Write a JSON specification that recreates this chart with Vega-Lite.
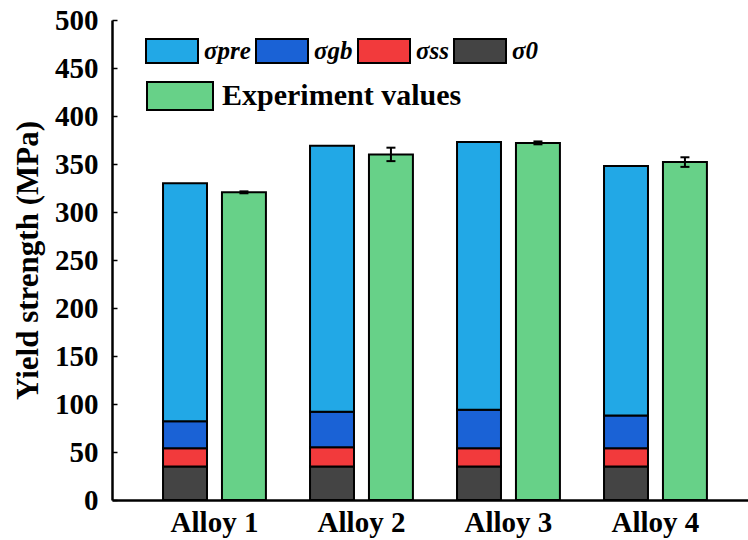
{
  "$schema": "https://vega.github.io/schema/vega-lite/v6.json",
  "width": 636,
  "height": 480,
  "autosize": {"type": "none"},
  "padding": {"left": 112, "top": 20, "right": 0, "bottom": 40},
  "background": "white",
  "datasets": {
    "comp": [
      {"alloy": "Alloy 1", "kind": "Model", "series": "σ0", "k": 1, "value": 35},
      {"alloy": "Alloy 1", "kind": "Model", "series": "σss", "k": 2, "value": 19},
      {"alloy": "Alloy 1", "kind": "Model", "series": "σgb", "k": 3, "value": 28},
      {"alloy": "Alloy 1", "kind": "Model", "series": "σpre", "k": 4, "value": 248},
      {"alloy": "Alloy 2", "kind": "Model", "series": "σ0", "k": 1, "value": 35},
      {"alloy": "Alloy 2", "kind": "Model", "series": "σss", "k": 2, "value": 20},
      {"alloy": "Alloy 2", "kind": "Model", "series": "σgb", "k": 3, "value": 37},
      {"alloy": "Alloy 2", "kind": "Model", "series": "σpre", "k": 4, "value": 277},
      {"alloy": "Alloy 3", "kind": "Model", "series": "σ0", "k": 1, "value": 35},
      {"alloy": "Alloy 3", "kind": "Model", "series": "σss", "k": 2, "value": 19},
      {"alloy": "Alloy 3", "kind": "Model", "series": "σgb", "k": 3, "value": 40},
      {"alloy": "Alloy 3", "kind": "Model", "series": "σpre", "k": 4, "value": 279},
      {"alloy": "Alloy 4", "kind": "Model", "series": "σ0", "k": 1, "value": 35},
      {"alloy": "Alloy 4", "kind": "Model", "series": "σss", "k": 2, "value": 19},
      {"alloy": "Alloy 4", "kind": "Model", "series": "σgb", "k": 3, "value": 34},
      {"alloy": "Alloy 4", "kind": "Model", "series": "σpre", "k": 4, "value": 260}
    ],
    "exp": [
      {"alloy": "Alloy 1", "kind": "Experiment", "series": "Experiment values", "value": 320.5, "lo": 319.5, "hi": 321.5},
      {"alloy": "Alloy 2", "kind": "Experiment", "series": "Experiment values", "value": 360, "lo": 353, "hi": 367},
      {"alloy": "Alloy 3", "kind": "Experiment", "series": "Experiment values", "value": 372, "lo": 370.5, "hi": 373.5},
      {"alloy": "Alloy 4", "kind": "Experiment", "series": "Experiment values", "value": 352, "lo": 347, "hi": 357}
    ]
  },
  "encoding": {
    "x": {
      "field": "alloy", "type": "nominal",
      "scale": {"domain": ["Alloy 1", "Alloy 2", "Alloy 3", "Alloy 4"], "paddingInner": 0.3, "paddingOuter": 0.3133, "align": 0.554},
      "axis": {"title": null, "labelAngle": 0, "ticks": false, "domainColor": "black", "domainWidth": 2.5, "labelPadding": 8, "labelFont": "Liberation Serif", "labelFontSize": 29, "labelFontWeight": "bold", "labelColor": "black"}
    },
    "xOffset": {
      "field": "kind", "type": "nominal",
      "scale": {"domain": ["Model", "Experiment"], "paddingInner": 0.254, "paddingOuter": 0}
    }
  },
  "layer": [
    {
      "data": {"name": "comp"},
      "mark": {"type": "bar", "stroke": "black", "strokeWidth": 2},
      "encoding": {
        "y": {
          "field": "value", "type": "quantitative", "stack": "zero",
          "scale": {"domain": [0, 500], "nice": false},
          "axis": {
            "title": "Yield strength (MPa)",
            "values": [0, 25, 50, 75, 100, 125, 150, 175, 200, 225, 250, 275, 300, 325, 350, 375, 400, 425, 450, 475, 500],
            "labelExpr": "datum.value % 50 === 0 ? datum.label : ''",
            "grid": false,
            "tickSize": -5, "tickWidth": 1.5, "tickColor": "black",
            "domainColor": "black", "domainWidth": 2.5,
            "labelPadding": 19, "labelFont": "Liberation Serif", "labelFontSize": 29, "labelFontWeight": "bold", "labelColor": "black",
            "titleFont": "Liberation Serif", "titleFontSize": 31, "titleFontWeight": "bold", "titleColor": "black", "titlePadding": 10
          }
        },
        "order": {"field": "k", "type": "quantitative", "sort": "ascending"},
        "color": {
          "field": "series", "type": "nominal",
          "scale": {
            "domain": ["σpre", "σgb", "σss", "σ0"],
            "range": ["#22a8e6", "#1a62d6", "#f23a3c", "#444444"]
          },
          "legend": {
            "title": null,
            "orient": "none", "legendX": 33, "legendY": 4,
            "direction": "horizontal",
            "symbolType": "M-1,-0.46H1V0.46H-1Z", "symbolSize": 2704,
            "symbolStrokeColor": "black", "symbolStrokeWidth": 2, "symbolOpacity": 1,
            "labelFont": "Liberation Serif", "labelFontSize": 25, "labelFontStyle": "italic", "labelFontWeight": "bold", "labelColor": "black",
            "labelOffset": 5, "columnPadding": 1, "labelLimit": 200,
            "encode": {"symbols": {"update": {"stroke": {"value": "black"}}}}
          }
        }
      }
    },
    {
      "data": {"name": "exp"},
      "mark": {"type": "bar", "stroke": "black", "strokeWidth": 2},
      "encoding": {
        "y": {"field": "value", "type": "quantitative"},
        "color": {
          "field": "series", "type": "nominal",
          "scale": {"domain": ["Experiment values"], "range": ["#67d188"]},
          "legend": {
            "title": null,
            "orient": "none", "legendX": 34, "legendY": 42,
            "symbolType": "M-1,-0.424H1V0.424H-1Z", "symbolSize": 4356,
            "symbolStrokeColor": "black", "symbolStrokeWidth": 2, "symbolOpacity": 1,
            "labelFont": "Liberation Serif", "labelFontSize": 30, "labelFontWeight": "bold", "labelColor": "black",
            "labelOffset": 8, "labelLimit": 400,
            "encode": {"symbols": {"update": {"stroke": {"value": "black"}}}}
          }
        }
      }
    },
    {
      "data": {"name": "exp"},
      "mark": {"type": "rule", "color": "black", "strokeWidth": 2},
      "encoding": {
        "y": {"field": "lo", "type": "quantitative"},
        "y2": {"field": "hi"}
      }
    },
    {
      "data": {"name": "exp"},
      "mark": {"type": "tick", "color": "black", "size": 9, "thickness": 2, "opacity": 1},
      "encoding": {"y": {"field": "hi", "type": "quantitative"}}
    },
    {
      "data": {"name": "exp"},
      "mark": {"type": "tick", "color": "black", "size": 9, "thickness": 2, "opacity": 1},
      "encoding": {"y": {"field": "lo", "type": "quantitative"}}
    },
    {
      "mark": {"type": "rule", "color": "black", "strokeWidth": 3},
      "encoding": {"y": {"datum": 500}, "x": null, "xOffset": null}
    }
  ],
  "resolve": {"scale": {"color": "independent"}},
  "config": {"view": {"stroke": null}}
}
